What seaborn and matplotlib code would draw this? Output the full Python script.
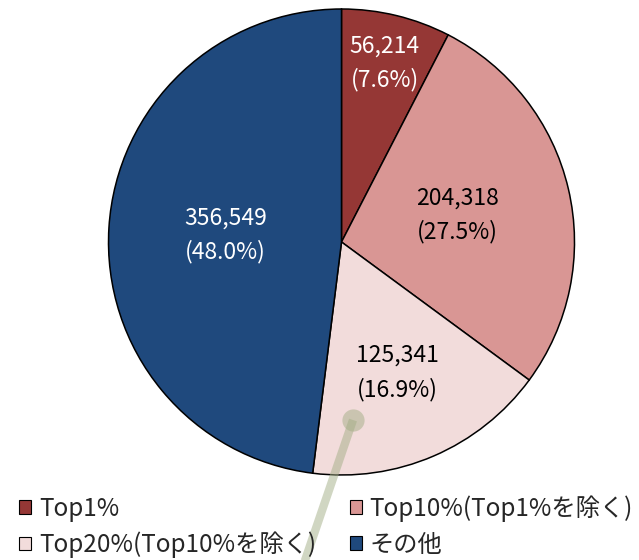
import matplotlib
matplotlib.use("Agg")
import matplotlib.pyplot as plt
import seaborn as sns
import numpy as np
from matplotlib.patches import Patch
from matplotlib.lines import Line2D

sns.set_style("white")
plt.rcParams['font.family'] = ['Noto Sans CJK JP', 'DejaVu Sans']

categories = ["Top1%", "Top10%(Top1%を除く)", "Top20%(Top10%を除く)", "その他"]
values = [56214, 204318, 125341, 356549]
colors = ["#953735", "#D99694", "#F2DCDB", "#1F497D"]
text_colors = ["white", "black", "black", "white"]
label_dist = [0.79, 0.51, 0.61, 0.50]

W, H = 639, 560
fig = plt.figure(figsize=(W / 100, H / 100), dpi=100)
cx, cy, r = 341.5, 242, 233
ax = fig.add_axes([(cx - r) / W, 1 - (cy + r) / H, 2 * r / W, 2 * r / H])

wedges, _ = ax.pie(values, colors=colors, startangle=90, counterclock=False,
                   radius=1.0, wedgeprops=dict(edgecolor='black', linewidth=1.1))
ax.set_xlim(-1, 1)
ax.set_ylim(-1, 1)
ax.set_aspect('equal')
ax.axis('off')

total = sum(values)
for w, v, tc, d in zip(wedges, values, text_colors, label_dist):
    ang = np.deg2rad((w.theta1 + w.theta2) / 2)
    x, y = d * np.cos(ang), d * np.sin(ang)
    ax.text(x, y, f"{v:,}\n({v / total * 100:.1f}%)", color=tc, ha='center', va='center',
            fontsize=16.5, linespacing=1.55)

# stray callout leader (semi-transparent)
p0 = (353 / W, 1 - 420 / H)
p1 = (300 / W, 1 - 575 / H)
fig.add_artist(Line2D([p0[0], p1[0]], [p0[1], p1[1]], transform=fig.transFigure,
                      color='#A3AE86', alpha=0.5, lw=6, solid_capstyle='butt', zorder=5,
                      marker='o', markevery=[0], markersize=16, markeredgewidth=0))

order = [0, 2, 1, 3]
handles = [Patch(facecolor=colors[i], edgecolor='black', linewidth=0.8) for i in order]
labels = [categories[i] for i in order]
fig.legend(handles, labels, ncol=2, loc='lower left', bbox_to_anchor=(0.015, -0.014),
           frameon=False, fontsize=17.5, handlelength=0.5, handleheight=0.5,
           handletextpad=0.3, columnspacing=1.4, labelspacing=0.4, borderaxespad=0)

fig.savefig("out.png", dpi=100)
